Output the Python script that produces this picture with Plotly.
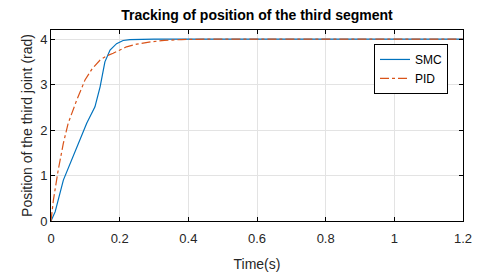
import plotly.graph_objects as go

smc_t = [0, 0.012, 0.036, 0.06, 0.084, 0.104, 0.128, 0.143, 0.157, 0.172, 0.191, 0.21, 0.23, 0.26, 0.3, 0.5, 0.8, 1.0, 1.2]
smc_y = [0, 0.2, 0.9, 1.34, 1.82, 2.15, 2.51, 2.95, 3.5, 3.76, 3.9, 3.97, 3.99, 4.0, 4.0, 4.0, 4.0, 4.0, 4.0]

pid_t = [0, 0.007, 0.021, 0.036, 0.05, 0.075, 0.099, 0.12, 0.143, 0.162, 0.181, 0.2, 0.22, 0.25, 0.29, 0.33, 0.38, 0.45, 0.6, 0.8, 1.0, 1.2]
pid_y = [0, 0.46, 1.12, 1.71, 2.15, 2.66, 3.1, 3.35, 3.54, 3.63, 3.69, 3.76, 3.83, 3.89, 3.94, 3.97, 3.99, 4.0, 4.0, 4.0, 4.0, 4.0]

x_ticks = [0, 0.2, 0.4, 0.6, 0.8, 1, 1.2]
x_tick_labels = ["0", "0.2", "0.4", "0.6", "0.8", "1", "1.2"]
y_ticks = [0, 1, 2, 3, 4]

font_family = "Liberation Sans, Arial, sans-serif"

fig = go.Figure()
fig.add_trace(go.Scatter(x=smc_t, y=smc_y, mode="lines", name="SMC",
                         line=dict(color="#0072BD", width=1.2)))
fig.add_trace(go.Scatter(x=pid_t, y=pid_y, mode="lines", name="PID",
                         line=dict(color="#D95319", width=1.2, dash="dashdot")))

axis_common = dict(showline=True, linecolor="black", linewidth=1, mirror="ticks",
                   ticks="inside", ticklen=4, tickcolor="black",
                   showgrid=True, gridcolor="#e3e3e3", gridwidth=1,
                   zeroline=False, automargin=False,
                   tickfont=dict(size=13, color="#262626", family=font_family))

fig.update_layout(
    width=477, height=276,
    margin=dict(l=51, r=14, t=30, b=55),
    paper_bgcolor="white", plot_bgcolor="white",
    font=dict(family=font_family, color="#262626"),
    title=dict(text="<b>Tracking of position of the third segment</b>",
               x=(51 + 463) / 2 / 477, xanchor="center", y=1 - 15 / 276, yanchor="middle",
               font=dict(size=14, color="black", family=font_family)),
    xaxis=dict(range=[0, 1.2], tickvals=x_ticks, ticktext=x_tick_labels,
               ticklabelstandoff=5,
               title=dict(text="Time(s)", font=dict(size=14, family=font_family), standoff=14),
               **axis_common),
    yaxis=dict(range=[0, 4.2], tickvals=y_ticks,
               title=dict(text="Position of the third joint (rad)", font=dict(size=14, family=font_family), standoff=4),
               **axis_common),
    legend=dict(x=0.784, y=0.927, xanchor="left", yanchor="top",
                bgcolor="white", bordercolor="black", borderwidth=1,
                font=dict(size=12, color="black", family=font_family),
                itemwidth=30, tracegroupgap=0),
    showlegend=True,
)

fig.write_html("out.html", config={"displayModeBar": False},
               post_script="document.body.style.margin='0px';")
